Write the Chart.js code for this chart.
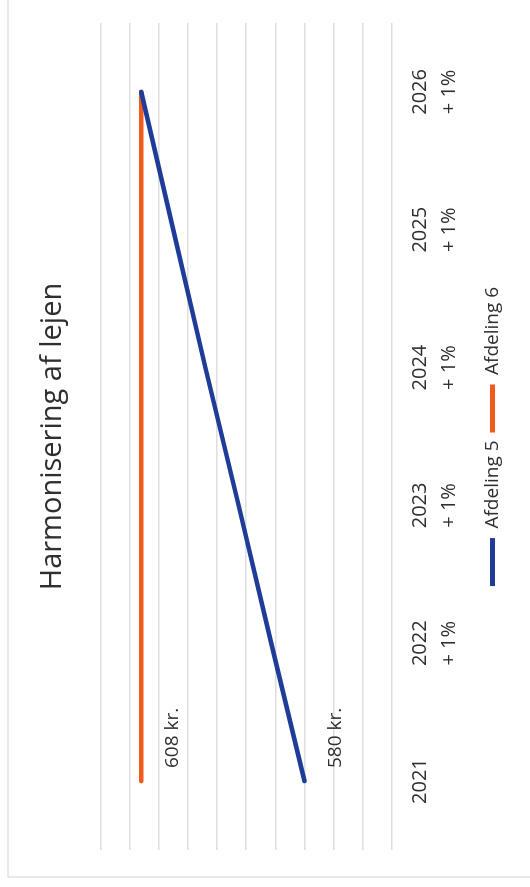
<!DOCTYPE html>
<html>
<head>
<meta charset="utf-8">
<script src="https://cdn.jsdelivr.net/npm/chart.js@4"></script>
<style>
  html, body { margin: 0; padding: 0; background: #fff; overflow: hidden; }
  #wrap {
    position: absolute; left: 0; top: 0;
    width: 887px; height: 530px;
    transform-origin: 0 0;
    transform: translate(0, 887px) rotate(-90deg);
  }
</style>
</head>
<body>
<div id="wrap"><canvas id="chart" width="887" height="530"></canvas></div>
<script>
// chart is drawn upright, the wrapper turns it on its side like the scan
const years      = ["2021", "2022", "2023", "2024", "2025", "2026"];
const increments = ["", "+ 1%", "+ 1%", "+ 1%", "+ 1%", "+ 1%"];
const afdeling5  = [580, 585.7, 591.3, 597, 602.5, 608];
const afdeling6  = [608, 608, 608, 608, 608, 608];
const yMin = 565, yMax = 615, yStep = 5;

const BLUE   = "#1e3c98";
const ORANGE = "#f05a1c";
const TEXT   = "#2f2f2f";
const FONT   = "'Open Sans', sans-serif";

const labels = years.map((y, i) => increments[i] ? [y, increments[i]] : [y]);

const frame = {
  id: "frame",
  beforeDraw(chart) {
    const ctx = chart.ctx;
    ctx.save();
    ctx.strokeStyle = "#e4e4e4";
    ctx.lineWidth = 1.5;
    ctx.beginPath();
    ctx.moveTo(10, chart.height);
    ctx.lineTo(10, 8);
    ctx.lineTo(chart.width, 8);
    ctx.stroke();
    ctx.restore();
  },
};

const firstValueLabels = {
  id: "firstValueLabels",
  afterDatasetsDraw(chart) {
    const ctx = chart.ctx;
    ctx.save();
    ctx.font = "19px " + FONT;
    ctx.fillStyle = TEXT;
    ctx.textAlign = "left";
    ctx.textBaseline = "middle";
    chart.data.datasets.forEach((ds, i) => {
      const pt = chart.getDatasetMeta(i).data[0];
      ctx.fillText(Math.round(ds.data[0]) + " kr.", pt.x + 13, pt.y + 31);
    });
    ctx.restore();
  },
};

new Chart(document.getElementById("chart"), {
  type: "line",
  data: {
    labels,
    datasets: [
      {
        label: "Afdeling 5",
        data: afdeling5,
        borderColor: BLUE,
        backgroundColor: BLUE,
        borderWidth: 4.5,
        pointRadius: 0,
        borderCapStyle: "round",
        tension: 0,
      },
      {
        label: "Afdeling 6",
        data: afdeling6,
        borderColor: ORANGE,
        backgroundColor: ORANGE,
        borderWidth: 4.5,
        pointRadius: 0,
        borderCapStyle: "round",
        tension: 0,
      },
    ],
  },
  options: {
    responsive: false,
    animation: false,
    devicePixelRatio: 1,
    layout: { padding: { left: 37, right: 23, top: 0, bottom: 18 } },
    plugins: {
      title: {
        display: true,
        text: "Harmonisering af lejen",
        color: TEXT,
        font: { family: FONT, size: 29, weight: "normal", lineHeight: 1.2 },
        padding: { top: 35, bottom: 30.6 },
      },
      legend: {
        position: "bottom",
        labels: {
          color: TEXT,
          font: { family: FONT, size: 19 },
          boxWidth: 48,
          boxHeight: 5,
          padding: 8,
          generateLabels: (chart) =>
            Chart.defaults.plugins.legend.labels.generateLabels(chart)
              .map((l) => ({ ...l, lineWidth: 0 })),
        },
      },
      tooltip: { enabled: false },
    },
    scales: {
      x: {
        offset: true,
        grid: { display: false },
        border: { display: false },
        ticks: {
          color: TEXT,
          font: { family: FONT, size: 20, lineHeight: 1.45 },
          padding: 6,
          maxRotation: 0,
        },
        afterFit: (scale) => { scale.height += 5; },
      },
      y: {
        min: yMin,
        max: yMax,
        grid: { color: "#dedede", lineWidth: 1.5, drawTicks: false },
        border: { display: false },
        ticks: { display: false, stepSize: yStep },
        afterFit: (scale) => { scale.width = 0; },
      },
    },
  },
  plugins: [frame, firstValueLabels],
});
</script>
</body>
</html>
